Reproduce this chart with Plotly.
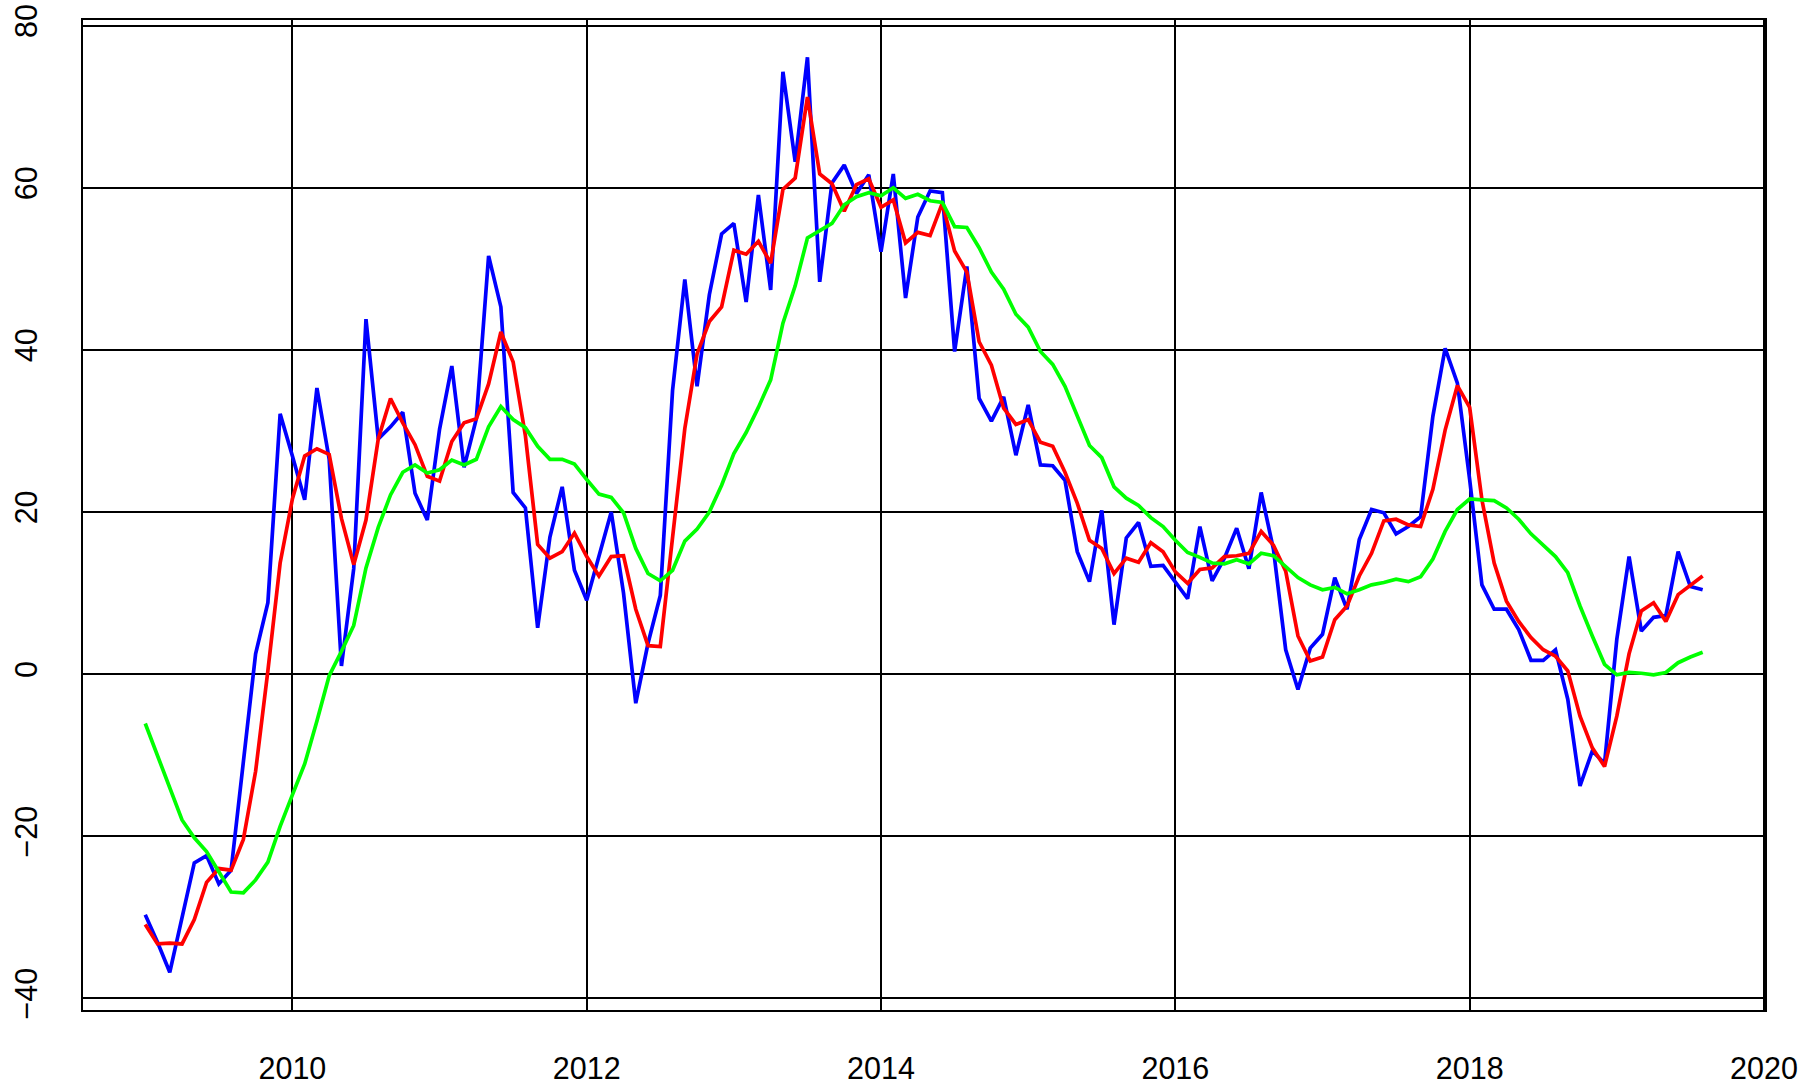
import plotly.graph_objects as go

start_year = 2009
months_per_year = 12

blue = [-29.7, -33.1, -36.8, -30.0, -23.3, -22.4, -25.9, -24.2, -11.0, 2.5, 8.8, 32.1,
        26.9, 21.5, 35.3, 26.5, 1.0, 13.0, 43.8, 29.0, 30.5, 32.3, 22.3, 19.0,
        30.2, 38.0, 25.5, 31.5, 51.6, 45.3, 22.4, 20.5, 5.7, 16.9, 23.1, 12.8,
        9.1, 14.5, 20.0, 10.0, -3.6, 3.8, 9.7, 35.0, 48.7, 35.5, 46.8, 54.3,
        55.6, 45.9, 59.1, 47.4, 74.3, 63.2, 76.1, 48.4, 60.6, 62.8, 59.3, 61.6,
        52.1, 61.7, 46.4, 56.4, 59.6, 59.4, 39.8, 50.3, 34.0, 31.2, 34.2, 27.0,
        33.2, 25.8, 25.7, 23.9, 15.1, 11.4, 20.2, 6.1, 16.8, 18.7, 13.3, 13.4,
        11.4, 9.3, 18.2, 11.5, 14.3, 18.0, 13.0, 22.4, 15.4, 3.0, -1.9, 3.2,
        4.9, 11.9, 8.0, 16.6, 20.3, 19.9, 17.3, 18.2, 19.4, 31.8, 40.2, 35.9,
        24.0, 11.0, 8.0, 8.0, 5.5, 1.7, 1.7, 3.0, -3.1, -13.8, -9.5, -11.0,
        4.3, 14.5, 5.3, 7.0, 7.2, 15.1, 10.8, 10.4]

red = [-30.9, -33.3, -33.2, -33.3, -30.3, -25.7, -24.0, -24.2, -20.4, -12.0, 0.4, 13.7,
       21.6, 26.9, 27.8, 27.1, 19.2, 13.5, 19.0, 29.0, 34.0, 31.0, 28.3, 24.4,
       23.8, 28.7, 31.0, 31.5, 35.8, 42.2, 38.5, 29.4, 16.0, 14.3, 15.1, 17.4,
       14.5, 12.1, 14.5, 14.6, 8.0, 3.5, 3.4, 17.0, 30.3, 39.5, 43.5, 45.3,
       52.3, 51.8, 53.4, 50.7, 59.8, 61.2, 71.2, 61.7, 60.5, 57.1, 60.4, 61.1,
       57.6, 58.5, 53.2, 54.5, 54.1, 58.1, 52.2, 49.6, 41.0, 38.1, 32.8, 30.8,
       31.4, 28.6, 28.1, 24.9, 21.1, 16.5, 15.5, 12.4, 14.3, 13.8, 16.2, 15.1,
       12.6, 11.2, 12.9, 13.1, 14.5, 14.6, 14.9, 17.6, 15.9, 12.7, 4.7, 1.6,
       2.1, 6.7, 8.4, 12.1, 14.9, 18.9, 19.1, 18.4, 18.2, 22.8, 30.1, 35.6,
       32.9, 21.5, 13.7, 9.0, 6.5, 4.5, 3.0, 2.2, 0.4, -5.2, -9.1, -11.4,
       -5.2, 2.5, 7.8, 8.8, 6.5, 9.8, 11.0, 12.1]

green = [-6.1, -10.1, -14.3, -18.0, -20.2, -21.9, -24.4, -26.9, -27.0, -25.4, -23.2, -18.8,
         -14.9, -11.1, -5.8, -0.2, 2.8, 6.0, 13.1, 18.1, 22.1, 24.9, 25.8, 24.8,
         25.2, 26.4, 25.8, 26.5, 30.5, 33.0, 31.4, 30.4, 28.1, 26.5, 26.5, 25.9,
         24.0, 22.2, 21.8, 19.9, 15.5, 12.4, 11.5, 12.8, 16.4, 17.9, 20.0, 23.3,
         27.2, 29.8, 32.9, 36.3, 43.3, 47.9, 53.8, 54.7, 55.6, 57.9, 58.9, 59.4,
         59.0, 60.0, 58.7, 59.2, 58.4, 58.2, 55.2, 55.1, 52.6, 49.6, 47.5, 44.4,
         42.8, 39.8, 38.2, 35.5, 31.9, 28.2, 26.7, 23.1, 21.7, 20.8, 19.3, 18.2,
         16.5, 15.0, 14.4, 13.7, 13.6, 14.1, 13.6, 14.9, 14.6, 13.3, 11.9, 11.0,
         10.4, 10.7, 9.9, 10.4, 11.0, 11.3, 11.7, 11.4, 12.0, 14.2, 17.6, 20.3,
         21.6, 21.5, 21.4, 20.5, 19.1, 17.3, 15.9, 14.5, 12.5, 8.4, 4.7, 1.2,
         -0.1, 0.2, 0.1, -0.1, 0.2, 1.4, 2.1, 2.7]

x_ticks = [2010, 2012, 2014, 2016, 2018, 2020]
y_ticks = [-40, -20, 0, 20, 40, 60, 80]

t = [start_year + k / months_per_year for k in range(len(blue))]

fig = go.Figure()
for vals, col in [(blue, "#0000FF"), (red, "#FF0000"), (green, "#00FF00")]:
    fig.add_trace(go.Scatter(x=t, y=vals, mode="lines",
                             line=dict(color=col, width=3.7), showlegend=False,
                             hoverinfo="skip"))

font = dict(family="Liberation Sans, Arial, sans-serif", size=30.5, color="black")

fig.update_layout(
    width=1806, height=1085,
    margin=dict(l=83, r=41, t=20, b=75, autoexpand=False),
    paper_bgcolor="white", plot_bgcolor="white",
    font=font,
    showlegend=False,
    xaxis=dict(range=[2008.577, 2020.007], tickmode="array", tickvals=x_ticks,
               ticktext=[str(v) for v in x_ticks], automargin=False,
               showgrid=True, gridcolor="black", gridwidth=1.8,
               showline=True, mirror=True, linecolor="black", linewidth=2,
               zeroline=False, ticks="", ticklabelstandoff=30,
               ticklabeloverflow="allow", tickfont=font),
    yaxis=dict(range=[-41.45, 80.7], tickmode="array", tickvals=y_ticks,
               automargin=False,
               showgrid=True, gridcolor="black", gridwidth=1.8,
               showline=True, mirror=True, linecolor="black", linewidth=2,
               zeroline=False, ticks="", tickangle=-90, ticklabelstandoff=32,
               ticklabeloverflow="allow", tickfont=font),
)

fig.write_html(
    "out.html",
    config={"displayModeBar": False},
    post_script="document.body.style.margin='0';document.body.style.overflow='hidden';",
)
